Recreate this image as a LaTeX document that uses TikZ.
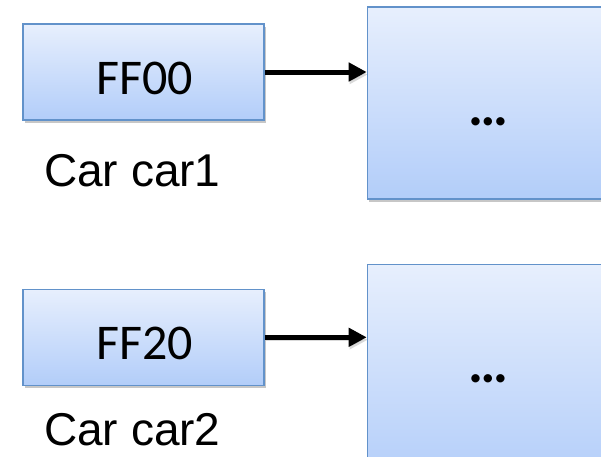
\documentclass[tikz,border=0pt]{standalone}
\usepackage{fontspec}
\setmainfont{Carlito}
\newfontfamily\labelfont{Liberation Sans}
\usetikzlibrary{arrows.meta,shadows}
\definecolor{boxtop}{RGB}{231,239,253}
\definecolor{boxbottom}{RGB}{178,205,249}
\definecolor{boxline}{RGB}{98,146,202}
\tikzset{
  membox/.style={rectangle, draw=boxline, line width=1.6pt,
    top color=boxtop, bottom color=boxbottom,
    drop shadow={shadow xshift=1.5pt, shadow yshift=-3pt, fill=black, opacity=0.22}},
  refbox/.style={membox, minimum width=241pt, minimum height=96pt, inner sep=0pt},
  objbox/.style={membox, minimum width=260pt, inner sep=0pt},
  boxtext/.style={font=\fontsize{50}{60}\selectfont, anchor=base, inner sep=0pt},
  dotstext/.style={font=\bfseries\fontsize{56}{60}\selectfont, anchor=base, inner sep=0pt},
  varlabel/.style={font=\labelfont\fontsize{46}{55}\selectfont, anchor=base west, inner sep=0pt},
  pointer/.style={line width=5pt, -{Triangle[length=18pt,width=18pt]},
    preaction={draw=black, opacity=0.15, transform canvas={xshift=1pt, yshift=-2.5pt}}}
}
\begin{document}
\begin{tikzpicture}[x=1pt,y=-1pt]
  \useasboundingbox (0,0) rectangle (601,456);
  % reference variables
  \node[refbox] (r1) at (143.5,72) {};
  \node[refbox] (r2) at (143.5,337.3) {};
  % heap objects (running off the right and bottom edges)
  \node[objbox, minimum height=192pt] (o1) at (497.5,103) {};
  \node[objbox, minimum height=220pt] (o2) at (497.5,374.3) {};
  % texts
  \node[boxtext] (t1) at (145,94) {FF00};
  \node[boxtext] (t2) at (145,359.5) {FF20};
  \node[dotstext] (d1) at (488,125) {…};
  \node[dotstext] (d2) at (488,382.5) {…};
  \node[varlabel] (l1) at (44,186) {Car car1};
  \node[varlabel] (l2) at (44,445) {Car car2};
  % pointers
  \draw[pointer] (r1.east) -- (r1.east -| o1.west);
  \draw[pointer] (r2.east) -- (r2.east -| o2.west);
\end{tikzpicture}
\end{document}
